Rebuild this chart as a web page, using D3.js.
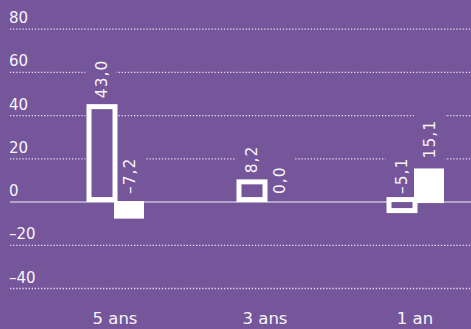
<!DOCTYPE html>
<html lang="fr">
<head>
<meta charset="utf-8">
<title>Performances</title>
<script src="https://d3js.org/d3.v7.min.js"></script>
<style>
  html, body { margin: 0; padding: 0; background: #75569b; }
  svg { display: block; font-family: "DejaVu Sans", sans-serif; }
  .grid line { stroke: #e6def0; stroke-width: 1.3px; stroke-dasharray: 1.3,1.8; }
  .zero { stroke: #c9bcdb; stroke-width: 1.5px; }
  .tick-label, .cat-label, .val-label { fill: #f7f4fa; }
</style>
</head>
<body>
<script>

// values
var categories = ["5 ans", "3 ans", "1 an"];
var outlineValues = [43.0, 8.2, -5.1];
var filledValues = [-7.2, 0.0, 15.1];
var yTicks = [-40, -20, 0, 20, 40, 60, 80];

var width = 471,
    height = 329,
    bg = "#75569b";

var svg = d3.select("body").append("svg")
    .attr("width", width)
    .attr("height", height);

svg.append("rect")
    .attr("width", width)
    .attr("height", height)
    .attr("fill", bg);

var y = d3.scaleLinear()
    .domain([-40, 80])
    .range([288.5, 29.2]);

var x = d3.scalePoint()
    .domain(categories)
    .range([115, 415]);

var x1 = d3.scaleBand()
    .domain(["outline", "filled"])
    .range([-27, 29]);

var fmt = function(v) {
  return d3.format(".1f")(v).replace(".", ",").replace("-", "\u2013").replace("\u2212", "\u2013");
};

// gridlines
svg.append("g")
    .attr("class", "grid")
  .selectAll("line")
  .data(yTicks.filter(function(d) { return d !== 0; }))
  .enter().append("line")
    .attr("x1", 10)
    .attr("x2", width)
    .attr("y1", function(d) { return y(d); })
    .attr("y2", function(d) { return y(d); });

svg.append("g")
  .selectAll("text")
  .data(yTicks)
  .enter().append("text")
    .attr("class", "tick-label")
    .attr("x", 9)
    .attr("y", function(d) { return y(d) - 6; })
    .style("font-size", "15px")
    .text(function(d) { return d < 0 ? "\u2013" + Math.abs(d) : d; });

// build bar records
var bars = [];
categories.forEach(function(c, i) {
  bars.push({ cat: c, key: "outline", value: outlineValues[i] });
  bars.push({ cat: c, key: "filled", value: filledValues[i] });
});

function labelStart(d) {
  return d.value > 0 ? y(d.value) - 11 : y(0) - 8;
}
function colLeft(d) {
  return x(d.cat) + x1(d.key) + (d.key === "outline" ? -1.5 : -1);
}
function colCenter(d) {
  return x(d.cat) + x1(d.key) + x1.bandwidth() / 2 - 1;
}

// purple backing behind labels so the dotted lines stop there
svg.append("g")
  .selectAll("rect")
  .data(bars)
  .enter().append("rect")
    .attr("x", function(d) { return colLeft(d) - 1; })
    .attr("width", x1.bandwidth() + 3)
    .attr("y", function(d) { return labelStart(d) - 44; })
    .attr("height", function(d) { return y(0) - labelStart(d) + 44; })
    .attr("fill", bg);

svg.append("line")
    .attr("class", "zero")
    .attr("x1", 10)
    .attr("x2", width)
    .attr("y1", y(0))
    .attr("y2", y(0));

// outlined bars
svg.append("g")
  .selectAll("rect")
  .data(bars.filter(function(d) { return d.key === "outline"; }))
  .enter().append("rect")
    .attr("x", function(d) { return x(d.cat) + x1(d.key) + 1; })
    .attr("width", x1.bandwidth() - 2)
    .attr("y", function(d) { return Math.min(y(d.value), y(0)) - 2.5; })
    .attr("height", function(d) { return Math.abs(y(d.value) - y(0)); })
    .attr("fill", bg)
    .attr("stroke", "#fff")
    .attr("stroke-width", 5);

// filled bars
svg.append("g")
  .selectAll("rect")
  .data(bars.filter(function(d) { return d.key === "filled"; }))
  .enter().append("rect")
    .attr("x", function(d) { return x(d.cat) + x1(d.key) - 1; })
    .attr("width", x1.bandwidth())
    .attr("y", function(d) { return Math.min(y(d.value), y(0)); })
    .attr("height", function(d) { return Math.abs(y(d.value) - y(0)); })
    .attr("fill", "#fff")
    .attr("stroke", "#fff")
    .attr("stroke-width", 2);

// value labels
svg.append("g")
  .selectAll("text")
  .data(bars)
  .enter().append("text")
    .attr("class", "val-label")
    .attr("transform", function(d) {
      return "translate(" + colCenter(d) + "," + labelStart(d) + ") rotate(-90)";
    })
    .attr("dy", "0.36em")
    .style("font-size", "15.5px")
    .style("letter-spacing", "1px")
    .text(function(d) { return fmt(d.value); });

// category labels
svg.append("g")
  .selectAll("text")
  .data(categories)
  .enter().append("text")
    .attr("class", "cat-label")
    .attr("x", function(d) { return x(d); })
    .attr("y", 324)
    .attr("text-anchor", "middle")
    .style("font-size", "16.5px")
    .text(function(d) { return d; });

</script>
</body>
</html>
